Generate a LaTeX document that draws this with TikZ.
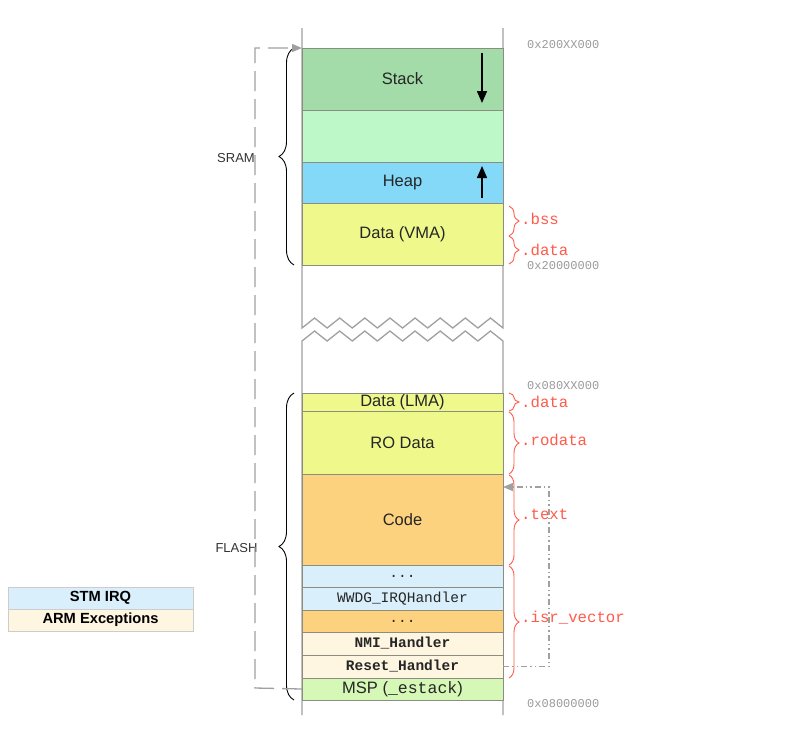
\documentclass[tikz,border=0pt]{standalone}
\usepackage{fontspec}
\setmainfont{Liberation Sans}
\setmonofont{Liberation Mono}
\usetikzlibrary{arrows.meta,decorations.pathreplacing}
\definecolor{stackc}{HTML}{A3DCA9}
\definecolor{freec}{HTML}{BDF9C8}
\definecolor{heapc}{HTML}{84D9F9}
\definecolor{datac}{HTML}{EFF98B}
\definecolor{codec}{HTML}{FDD27E}
\definecolor{irqc}{HTML}{D9F0FC}
\definecolor{excc}{HTML}{FEF6E1}
\definecolor{mspc}{HTML}{D5F8B6}
\definecolor{redc}{HTML}{FF5A4A}
\definecolor{addrc}{HTML}{9A9A9A}
\definecolor{blkline}{HTML}{8C8C80}
\definecolor{colline}{HTML}{A0A0A0}
\begin{document}
\begin{tikzpicture}[x=1pt,y=-1pt,
  blk/.style={draw=blkline,line width=0.9pt,minimum width=201pt,inner sep=0pt,outer sep=0pt,
    font=\fontsize{16.5}{17}\selectfont,text=black!85},
  hnd/.style={blk,font=\fontsize{14.5}{15}\selectfont\ttfamily\bfseries},
  hndl/.style={blk,font=\fontsize{14.5}{15}\selectfont\ttfamily},
  addr/.style={anchor=west,inner sep=0pt,text=addrc,font=\fontsize{12}{12}\selectfont\ttfamily},
  sect/.style={anchor=west,inner sep=0pt,text=redc,font=\fontsize{15.7}{16}\selectfont\ttfamily},
  rbrace/.style={draw=redc,line width=0.9pt,decorate,decoration={brace,amplitude=10pt}},
  kbrace/.style={draw=black,line width=0.9pt,decorate,decoration={brace,amplitude=15pt}},
  region/.style={inner sep=0pt,font=\fontsize{13}{13}\selectfont,text=black!80},
  growarrow/.style={line width=1.5pt,-{Triangle[length=12pt,width=10pt]}},
  legend/.style={draw=black!20,line width=0.6pt,minimum width=185pt,minimum height=22pt,inner sep=0pt,
    font=\fontsize{14.7}{15}\selectfont\bfseries},
  mspline/.style={draw=colline,line width=1.3pt,dash pattern=on 20pt off 8pt,-{Triangle[length=10pt,width=8pt]}},
  vecline/.style={draw=colline,line width=1.2pt,dash pattern=on 6pt off 3pt on 1.5pt off 3pt on 1.5pt off 3pt,-{Triangle[length=10pt,width=8pt]}}
]
\useasboundingbox (0,0) rectangle (794,732);
% memory column outline with break
\draw[colline,line width=1.3pt] (302,28) -- (302,328)
  \foreach \k in {0,...,7} { -- ({314.56+25.125*\k},318) -- ({327.125+25.125*\k},328) } -- (503,28);
\draw[colline,line width=1.3pt] (302,715) -- (302,341)
  \foreach \k in {0,...,7} { -- ({314.56+25.125*\k},331) -- ({327.125+25.125*\k},341) } -- (503,715);
% SRAM blocks
\node[blk,fill=stackc,minimum height=62pt] (stack) at (402.5,79) {Stack};
\node[blk,fill=freec,minimum height=52pt] (free) at (402.5,136) {};
\node[blk,fill=heapc,minimum height=41pt] (heap) at (402.5,182.5) {Heap};
\node[blk,fill=datac,minimum height=62pt] (vma) at (402.5,234) {Data (VMA)};
% FLASH blocks
\node[blk,fill=datac,minimum height=18pt] (lma) at (402.5,402) {Data (LMA)};
\node[blk,fill=datac,minimum height=63pt] (ro) at (402.5,442.5) {RO Data};
\node[blk,fill=codec,minimum height=91pt] (code) at (402.5,519.5) {Code};
\node[hndl,fill=irqc,minimum height=22pt] (dots1) at (402.5,576) {...};
\node[hndl,fill=irqc,minimum height=23pt] (wwdg) at (402.5,598.5) {WWDG\_IRQHandler};
\node[hndl,fill=codec,minimum height=22pt] (dots2) at (402.5,621) {...};
\node[hnd,fill=excc,minimum height=23pt] (nmi) at (402.5,643.5) {NMI\_Handler};
\node[hnd,fill=excc,minimum height=23pt] (reset) at (402.5,666.5) {Reset\_Handler};
\node[blk,fill=mspc,minimum height=22pt] (msp) at (402.5,689) {MSP ({\ttfamily\_estack})};
% growth arrows
\coordinate (sa) at (482,53); \coordinate (sb) at (482,103);
\coordinate (ha) at (482,198); \coordinate (hb) at (482,166);
\draw[growarrow] (sa) -- (sb);
\draw[growarrow] (ha) -- (hb);
% addresses
\node[addr] (a1) at (527,45) {0x200XX000};
\node[addr] (a2) at (527,266) {0x20000000};
\node[addr] (a3) at (527,386) {0x080XX000};
\node[addr] (a4) at (527,704) {0x08000000};
% section braces
\draw[rbrace] (509,206) -- (509,236);
\draw[rbrace] (509,236) -- (509,264);
\draw[rbrace] (509,393) -- (509,411);
\draw[rbrace] (509,412) -- (509,474);
\draw[rbrace] (509,475) -- (509,565);
\draw[rbrace] (509,566) -- (509,678);
\node[sect] (bss) at (521,219) {.bss};
\node[sect] (sdata) at (521,250) {.data};
\node[sect] (fdata) at (521,402) {.data};
\node[sect] (rodata) at (521,440) {.rodata};
\node[sect] (text) at (521,514) {.text};
\node[sect] (isr) at (521,618) {.isr\_vector};
% region braces
\draw[kbrace] (294,265) -- (294,48);
\draw[kbrace] (294,700) -- (294,393);
\node[region] (sram) at (236,158) {SRAM};
\node[region] (flash) at (236.5,548) {FLASH};
% pointer connectors
\coordinate (mspcorner) at (255,688);
\draw[mspline] (msp.west) -- (mspcorner) |- (stack.north west);
\coordinate (veccorner) at (549,666.5);
\coordinate (codeentry) at (503,487);
\draw[vecline] (reset.east) -- (veccorner) |- (codeentry);
% legend
\node[legend,fill=irqc] (stm) at (100.5,598) {STM IRQ};
\node[legend,fill=excc] (arm) at (100.5,620) {ARM Exceptions};
\end{tikzpicture}
\end{document}
